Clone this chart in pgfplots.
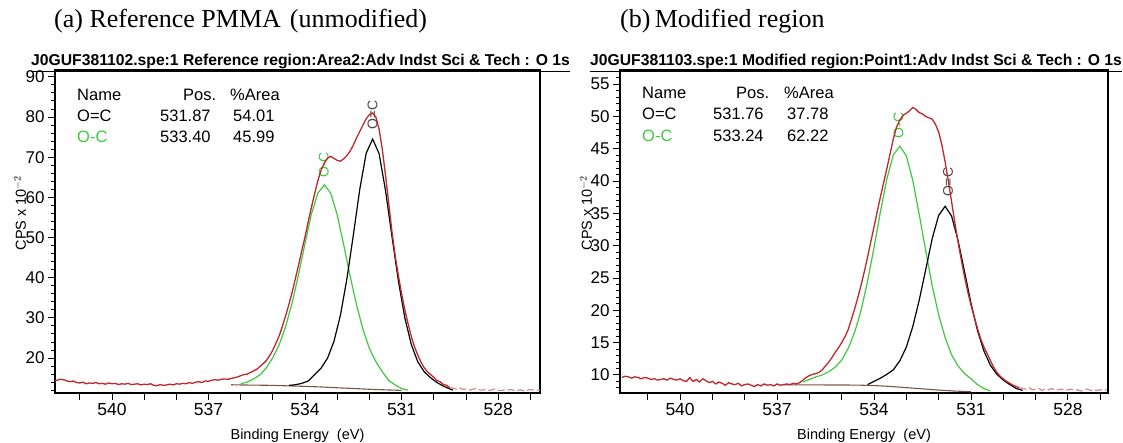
\documentclass[border=0pt]{standalone}
\usepackage{fontspec}
\setmainfont{Liberation Sans}
\newfontfamily\timesf{Liberation Serif}
\usepackage{pgfplots}
\pgfplotsset{compat=1.18}
\definecolor{datared}{HTML}{C0262C}
\definecolor{cgreen}{HTML}{3DC93D}
\definecolor{cbrown}{HTML}{7D5443}
\definecolor{lblgray}{HTML}{4A4A4A}

\pgfplotsset{xps/.style={
  scale only axis, x dir=reverse, clip=true,
  axis line style={line width=1.2pt},
  every tick/.style={black, line width=0.9pt},
  tick align=outside, major tick length=7pt, minor tick length=4pt,
  xtick={527,...,541},
  xticklabels={,528,,,531,,,534,,,537,,,540,},
  xticklabel style={font=\fontsize{17.5}{18}\selectfont},
  yticklabel style={font=\fontsize{17}{18}\selectfont},
  /pgf/number format/assume math mode=true,
  xtick pos=bottom, ytick pos=left,
}}

\begin{document}
\begin{tikzpicture}[x=1pt,y=1pt]
\useasboundingbox (0,0) rectangle (1123,443);

% ---------- titles and headers ----------
\node[anchor=base west,inner sep=0] at (54,415) {\timesf\fontsize{26}{26}\selectfont (a) Reference PMMA\hspace{9pt}(unmodified)};
\node[anchor=base west,inner sep=0] at (620,415) {\timesf\fontsize{26}{26}\selectfont (b)\,Modified region};
\node[anchor=base west,inner sep=0] at (31,377) {\fontsize{15.7}{15}\selectfont\bfseries\underline{J0GUF381102.spe:1 Reference region:Area2:Adv Indst Sci \& Tech : O 1s}};
\node[anchor=base west,inner sep=0] at (590,377) {\fontsize{15.7}{15}\selectfont\bfseries\underline{J0GUF381103.spe:1 Modified region:Point1:Adv Indst Sci \& Tech : O 1s}};
\node[rotate=90] at (20,230) {\fontsize{14.5}{15}\selectfont CPS x 10$^{-2}$};
\node[rotate=90] at (586,230) {\fontsize{14.5}{15}\selectfont CPS x 10$^{-2}$};
\node[anchor=base] at (297.5,3.5) {\fontsize{14.5}{15}\selectfont Binding Energy\ \ (eV)};
\node[anchor=base] at (864,3.5) {\fontsize{14.5}{15}\selectfont Binding Energy\ \ (eV)};

% ---------- (a) reference ----------
\begin{axis}[xps, at={(55pt,50pt)}, anchor=south west, width=485pt, height=323pt,
  xmin=526.7, xmax=541.77, ymin=11.3, ymax=91.7,
  ytick={20,30,...,90}, minor ytick={12,14,...,90}]
\node[rotate=90,text=lblgray,font=\fontsize{14}{14}\selectfont] at (axis cs:531.9,80.6) {O=C};
\node[rotate=90,text=cgreen,font=\fontsize{14}{14}\selectfont] at (axis cs:533.42,68.1) {O-C};
% background
\addplot[cbrown, line width=1.1pt] coordinates {
 (536.3,13.35) (536.0,13.3) (535.5,13.25) (535.0,13.2) (534.5,13.07) (534.0,12.95)
 (533.5,12.8) (533.0,12.6) (532.5,12.42) (532.0,12.23) (531.5,12.08) (531.0,11.95)};
% O-C component
\addplot[cgreen, line width=1.2pt] coordinates {
 (536.0,13.6) (535.8,14.0) (535.6,14.8) (535.4,15.8) (535.2,17.6) (535.0,20.1)
 (534.8,23.4) (534.6,27.9) (534.4,33.8) (534.2,40.9) (534.0,48.6) (533.8,55.9)
 (533.6,61.1) (533.4,63.1) (533.2,61.0) (533.0,55.6) (532.8,48.2) (532.6,40.4)
 (532.4,33.2) (532.2,27.1) (532.0,22.4) (531.8,19.1) (531.6,16.6) (531.4,14.4)
 (531.2,13.3) (531.0,12.4) (530.8,12.0)};
% O=C component
\addplot[black, line width=1.2pt] coordinates {
 (534.5,13.2) (534.3,13.35) (534.1,13.7) (533.9,14.3) (533.7,15.9) (533.5,17.5)
 (533.3,20.0) (533.1,24.2) (532.9,30.7) (532.7,39.7) (532.5,50.6) (532.3,62.0)
 (532.1,71.0) (531.9,74.5) (531.7,70.9) (531.5,61.7) (531.3,50.3) (531.1,39.2)
 (530.9,30.0) (530.7,23.4) (530.5,19.1) (530.3,16.6) (530.1,15.1) (529.9,13.9)
 (529.7,13.0) (529.5,12.3) (529.4,12.0)};
% data
\addplot[datared, line width=1.3pt] coordinates {
 (541.8,14.2) (541.7,14.5) (541.6,14.7) (541.5,14.6) (541.4,14.3) (541.3,14.1)
 (541.2,14.3) (541.1,13.9) (541.0,13.8) (540.9,14.0) (540.8,13.6) (540.7,13.8)
 (540.6,13.7) (540.5,13.9) (540.4,13.6) (540.3,13.7) (540.2,13.5) (540.1,13.8)
 (540.0,13.6) (539.9,13.7) (539.8,13.4) (539.7,13.6) (539.6,13.5) (539.5,13.7)
 (539.4,13.4) (539.3,13.5) (539.2,13.6) (539.1,13.3) (539.0,13.5) (538.9,13.4)
 (538.8,13.6) (538.7,13.2) (538.6,13.1) (538.5,13.4) (538.4,13.2) (538.3,13.3)
 (538.2,13.5) (538.1,13.3) (538.0,13.6) (537.9,13.5) (537.8,13.7) (537.7,13.6)
 (537.6,13.9) (537.5,13.7) (537.4,14.0) (537.3,14.1) (537.2,13.9) (537.1,14.3)
 (537.0,14.2) (536.9,14.5) (536.8,14.6) (536.7,14.5) (536.6,14.7) (536.5,14.8)
 (536.4,14.7) (536.3,14.9) (536.2,15.1) (536.1,15.3)
 (536.0,15.6) (535.9,15.9) (535.8,16.0) (535.7,16.4) (535.6,16.8) (535.5,17.2)
 (535.4,17.9) (535.3,18.6) (535.2,19.4) (535.1,20.6) (535.0,22.0) (534.9,23.8)
 (534.8,25.6) (534.7,28.0) (534.6,30.6) (534.5,33.4) (534.4,36.4) (534.3,39.8)
 (534.2,43.2) (534.1,46.8) (534.0,50.2) (533.9,54.0) (533.8,57.6) (533.7,61.0)
 (533.6,64.2) (533.5,66.8) (533.4,68.6) (533.3,69.8) (533.2,70.2) (533.1,69.7)
 (533.0,69.2) (532.9,69.0) (532.8,69.6) (532.7,70.4) (532.6,71.5) (532.5,73.0)
 (532.4,74.8) (532.3,76.4) (532.2,78.0) (532.1,79.6) (532.0,80.6) (531.9,81.0)
 (531.8,80.0) (531.7,77.0) (531.6,72.0) (531.5,65.5) (531.4,58.5) (531.3,51.5)
 (531.2,45.5) (531.1,40.5) (531.0,36.0) (530.9,32.0) (530.8,28.6) (530.7,25.4)
 (530.6,22.8) (530.5,20.8) (530.4,19.0) (530.3,17.6) (530.2,16.6) (530.1,15.9)
 (530.0,15.2) (529.9,14.4) (529.8,14.1) (529.7,13.4) (529.6,13.2) (529.5,12.6)};
% faint data tail
\addplot[datared!55, line width=1.2pt, dash pattern=on 7pt off 3pt] coordinates {
 (529.5,12.6)
 (529.4,12.5) (529.3,12.3) (529.2,12.6) (529.1,12.2) (529.0,12.3) (528.9,12.0)
 (528.8,12.2) (528.7,12.4) (528.6,12.1) (528.5,12.0) (528.4,12.2) (528.3,11.9)
 (528.2,12.1) (528.1,12.3) (528.0,12.0) (527.9,11.9) (527.8,12.1) (527.7,12.0)
 (527.6,12.2) (527.5,11.9) (527.4,12.0) (527.3,12.1) (527.2,11.8) (527.1,12.0)
 (527.0,12.2) (526.9,12.0) (526.8,11.9) (526.7,12.0)};
\end{axis}
\node[anchor=base west,inner sep=0,font=\fontsize{16.5}{17}\selectfont] at (77,342) {Name};
\node[anchor=base west,inner sep=0,font=\fontsize{16.5}{17}\selectfont] at (183,342) {Pos.};
\node[anchor=base west,inner sep=0,font=\fontsize{16.5}{17}\selectfont] at (230,342) {\%Area};
\node[anchor=base west,inner sep=0,font=\fontsize{16.5}{17}\selectfont] at (77,321) {O=C};
\node[anchor=base west,inner sep=0,font=\fontsize{16.5}{17}\selectfont] at (160,321) {531.87};
\node[anchor=base west,inner sep=0,font=\fontsize{16.5}{17}\selectfont] at (233,321) {54.01};
\node[anchor=base west,inner sep=0,font=\fontsize{16.5}{17}\selectfont,text=cgreen] at (77,300) {O-C};
\node[anchor=base west,inner sep=0,font=\fontsize{16.5}{17}\selectfont] at (160,300) {533.40};
\node[anchor=base west,inner sep=0,font=\fontsize{16.5}{17}\selectfont] at (233,300) {45.99};

% ---------- (b) modified ----------
\begin{axis}[xps, at={(620pt,50pt)}, anchor=south west, width=488pt, height=323pt,
  xmin=526.76, xmax=541.86, ymin=7.2, ymax=57.2,
  ytick={10,15,...,55}, minor ytick={8,9,...,57}]
\node[rotate=90,text=lblgray,font=\fontsize{14}{14}\selectfont] at (axis cs:531.71,39.8) {O=C};
\node[rotate=90,text=cgreen,font=\fontsize{14}{14}\selectfont] at (axis cs:533.24,48.6) {O-C};
\addplot[cbrown, line width=1.1pt] coordinates {
 (536.8,8.45) (536.0,8.45) (535.0,8.44) (534.5,8.42) (534.0,8.35) (533.5,8.22)
 (533.0,8.03) (532.5,7.84) (532.0,7.65) (531.5,7.5) (531.0,7.4)};
\addplot[cgreen, line width=1.2pt] coordinates {
 (536.2,8.9) (536.0,9.3) (535.8,9.7) (535.6,10.0) (535.4,10.5) (535.2,11.2)
 (535.0,12.3) (534.8,14.1) (534.6,16.6) (534.4,20.0) (534.2,24.5) (534.0,29.7)
 (533.8,35.3) (533.6,40.4) (533.4,44.1) (533.2,45.4) (533.0,43.9) (532.8,40.1)
 (532.6,34.8) (532.4,29.2) (532.2,23.8) (532.0,19.3) (531.8,15.8) (531.6,13.1)
 (531.4,11.4) (531.2,10.2) (531.0,9.4) (530.8,8.5) (530.6,7.9) (530.4,7.5)};
\addplot[black, line width=1.2pt] coordinates {
 (534.2,8.5) (534.0,9.0) (533.8,9.5) (533.6,10.1) (533.4,10.8) (533.2,12.2)
 (533.0,14.3) (532.8,17.5) (532.6,21.6) (532.4,26.3) (532.2,31.1) (532.0,34.7)
 (531.8,36.1) (531.6,34.6) (531.4,30.8) (531.2,26.0) (531.0,21.1) (530.8,16.9)
 (530.6,13.7) (530.4,11.5) (530.2,10.1) (530.0,9.2) (529.8,8.5) (529.6,7.9)
 (529.4,7.6)};
\addplot[datared, line width=1.3pt] coordinates {
 (541.8,9.6) (541.7,9.8) (541.6,9.7) (541.5,9.5) (541.4,9.7) (541.3,9.6)
 (541.2,9.4) (541.1,9.6) (541.0,9.5) (540.9,9.3) (540.8,9.4) (540.7,9.2)
 (540.6,9.3) (540.5,9.4) (540.4,9.2) (540.3,9.5) (540.2,9.3) (540.1,9.2)
 (540.0,9.4) (539.9,9.1) (539.8,9.0) (539.7,9.6) (539.6,9.0) (539.5,9.3)
 (539.4,8.9) (539.3,9.4) (539.2,9.1) (539.1,8.8) (539.0,9.0) (538.9,8.6)
 (538.8,8.9) (538.7,8.7) (538.6,8.4) (538.5,8.8) (538.4,8.6) (538.3,8.5)
 (538.2,8.7) (538.1,8.3) (538.0,8.5) (537.9,8.6) (537.8,8.4) (537.7,8.2)
 (537.6,8.5) (537.5,8.3) (537.4,8.6) (537.3,8.4) (537.2,8.5) (537.1,8.3)
 (537.0,8.6) (536.9,8.4) (536.8,8.5) (536.7,8.6) (536.6,8.5) (536.5,8.7)
 (536.4,8.6) (536.3,8.8) (536.2,9.2) (536.1,9.6) (536.0,9.9) (535.9,10.1)
 (535.8,10.2) (535.7,10.4) (535.6,10.8) (535.5,11.4) (535.4,12.0) (535.3,12.7)
 (535.2,13.5) (535.1,14.2) (535.0,15.0) (534.9,15.9) (534.8,17.0) (534.7,18.6)
 (534.6,20.2) (534.5,22.0) (534.4,23.9) (534.3,26.0) (534.2,28.2) (534.1,30.6)
 (534.0,32.9) (533.9,35.3) (533.8,37.6) (533.7,39.8) (533.6,42.0) (533.5,44.3)
 (533.4,46.6) (533.3,48.4) (533.2,49.5) (533.1,50.2) (533.0,50.5) (532.9,50.9)
 (532.8,51.4) (532.7,51.1) (532.6,50.6) (532.5,50.4) (532.4,50.0) (532.3,49.8)
 (532.2,49.6) (532.1,48.8) (532.0,47.6) (531.9,45.6) (531.8,43.0) (531.7,40.0)
 (531.6,36.8) (531.5,33.6) (531.4,30.6) (531.3,27.8) (531.2,25.2) (531.1,22.9)
 (531.0,20.8) (530.9,19.0) (530.8,17.2) (530.7,15.6) (530.6,14.3) (530.5,13.3)
 (530.4,12.2) (530.3,11.2) (530.2,10.4) (530.1,9.8) (530.0,9.4) (529.9,9.0)
 (529.8,8.7) (529.7,8.4) (529.6,8.2) (529.5,8.0)};
\addplot[datared!55, line width=1.2pt, dash pattern=on 7pt off 3pt] coordinates {
 (529.5,8.0) (529.4,7.9) (529.3,7.8)
 (529.2,8.0) (529.1,7.7) (529.0,7.8) (528.9,7.9) (528.8,7.6) (528.7,7.8)
 (528.6,7.7) (528.5,7.9) (528.4,7.6) (528.3,7.7) (528.2,7.8) (528.1,7.6)
 (528.0,7.7) (527.9,7.8) (527.8,7.6) (527.7,7.7) (527.6,7.5) (527.5,7.7)
 (527.4,7.8) (527.3,7.6) (527.2,7.7) (527.1,7.6) (527.0,7.7) (526.9,7.6)
 (526.8,7.7)};
\end{axis}
\node[anchor=base west,inner sep=0,font=\fontsize{16.5}{17}\selectfont] at (642,344) {Name};
\node[anchor=base west,inner sep=0,font=\fontsize{16.5}{17}\selectfont] at (736,344) {Pos.};
\node[anchor=base west,inner sep=0,font=\fontsize{16.5}{17}\selectfont] at (784,344) {\%Area};
\node[anchor=base west,inner sep=0,font=\fontsize{16.5}{17}\selectfont] at (642,323) {O=C};
\node[anchor=base west,inner sep=0,font=\fontsize{16.5}{17}\selectfont] at (713,323) {531.76};
\node[anchor=base west,inner sep=0,font=\fontsize{16.5}{17}\selectfont] at (787,323) {37.78};
\node[anchor=base west,inner sep=0,font=\fontsize{16.5}{17}\selectfont,text=cgreen] at (642,301) {O-C};
\node[anchor=base west,inner sep=0,font=\fontsize{16.5}{17}\selectfont] at (713,301) {533.24};
\node[anchor=base west,inner sep=0,font=\fontsize{16.5}{17}\selectfont] at (787,301) {62.22};
\end{tikzpicture}
\end{document}
